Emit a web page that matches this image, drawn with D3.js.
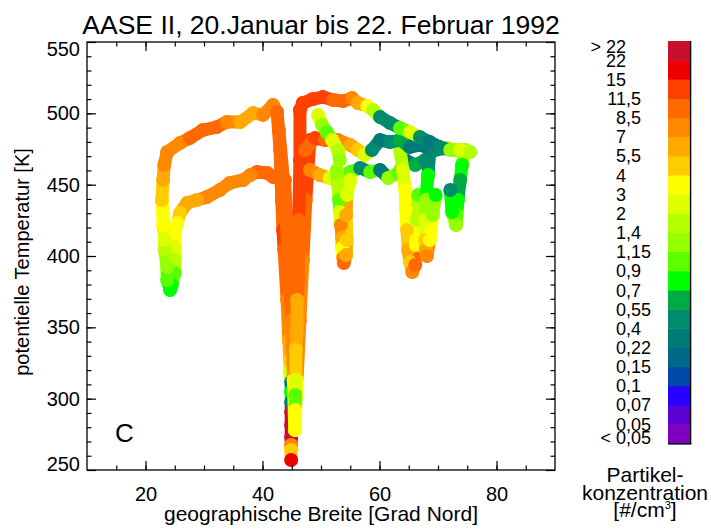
<!DOCTYPE html>
<html>
<head>
<meta charset="utf-8">
<title>AASE II</title>
<script src="https://cdn.jsdelivr.net/npm/d3@7"></script>
<style>
  body { margin: 0; background: #fff; }
  text { font-family: "Liberation Sans", Arial, Helvetica, sans-serif; fill: #000; }
</style>
</head>
<body>
<svg width="711" height="532"></svg>
<script>
// Farbklassen (unten -> oben), Grenzen der Partikelkonzentration [#/cm3]
var classColors = ["#8000c0","#5a00d0","#2800ff","#0048aa","#006888","#007a78","#008c6c","#00aa44",
  "#00ff00","#5aff00","#96ff00","#b4ff00","#ddff00","#ffff00","#ffcc00","#ffaa00",
  "#ff8800","#ff6a00","#ff4000","#ee0000","#c8102e"];
var boundLabels = ["0,05","0,07","0,1","0,15","0,22","0,4","0,55","0,7","0,9","1,15",
  "1,4","2","3","4","5,5","7","8,5","11,5","15","22"];

var xTicks = [20, 40, 60, 80];
var yTicks = [250, 300, 350, 400, 450, 500, 550];

// Flugabschnitte: [Breite, pot. Temperatur, Farbklasse]
var trackWest = [
  [43.8,453.3,17],[41.8,455.4,17],[40.8,458.2,17],[39.1,458.9,17],[37.9,456.8,16],[36.7,453.3,16],
  [34.4,451.2,16],[32.7,446.3,16],[30.5,441.4,16],[28.8,439.2,15],[27.1,437.1,15],[25.9,430.1,14],
  [25.4,423.1,13],[25.0,414.7,13],[25.0,406.3,12],[25.0,397.2,11],[25.0,388.1,9],[24.5,379.7,8],
  [24.2,376.2,8],[23.7,383.2,9],[23.7,392.3,10],[23.3,404.2,11],[23.3,411.2,12],[23.0,421.7,13],
  [23.0,430.1,13],[22.8,439.2,14],[23.0,453.3,15],[23.2,463.8,16],[23.7,472.9,16],[25.9,479.2,16],
  [27.6,482.7,17],[29.8,488.3,17],[32.2,490.4,17],[33.9,493.9,16],[36.2,493.9,15],[38.4,500.2,15],
  [40.1,498.9,16],[41.8,505.8,16],[42.5,500.9,17],[43.0,474.3,17],[43.3,439.2,17],[43.5,418.2,18],
  [43.7,404.2,17],[44.2,369.2,16],[44.5,341.1,15],[44.7,327.1,14],[44.7,318.7,12],[44.9,311.7,5],
  [44.9,304.7,8],[44.9,297.7,5],[44.9,290.7,20],[44.9,281.5,20],[44.9,273.1,20],[44.9,267.5,16],
  [44.9,264.0,14],[44.9,257.0,19]
];
var trackSpikeA = [
  [46.9,507.2,18],[46.4,502.3,18],[46.4,467.3,18],[46.2,425.2,17],[46.1,383.2,17],[45.9,369.2,15],
  [45.9,348.1,15],[45.7,334.1,14],[45.7,313.1,12],[45.6,302.6,9],[45.6,292.1,13],[45.6,278.0,13]
];
var trackSpikeB = [
  [43.8,453.3,17],[44.3,404.2,17],[45.0,355.1,16],[45.3,313.1,13],[45.5,278.0,14]
];
var trackSpikeC = [
  [48.1,481.3,18],[47.4,439.2,17],[46.9,397.2,16],[46.4,355.1,16],[45.9,313.1,13],[45.6,285.0,12]
];
var trackSpikeD = [
  [42.8,488.3,17],[43.9,439.2,17],[44.6,397.2,17],[45.0,355.1,15],[45.2,327.1,14]
];
var trackTop = [
  [46.9,507.2,18],[48.6,510.0,18],[50.3,511.4,18],[52.1,509.3,17],[53.8,508.6,17],[55.3,510.7,16],
  [56.3,507.2,15],[57.9,505.1,13],[58.9,502.3,11],[60.1,497.4,6],[61.8,493.2,6],[63.5,489.7,9],
  [65.2,486.9,12],[66.9,483.4,6],[68.6,479.9,5],[70.3,476.4,6],[72.1,474.3,10],[73.8,474.3,12],
  [75.5,472.9,11]
];
var trackMid = [
  [47.3,474.3,17],[49.0,482.7,18],[50.7,481.3,17],[52.9,481.3,16],[55.0,477.8,15],[56.3,474.3,14],
  [57.5,470.8,12],[58.7,474.3,6],[60.1,481.3,5],[61.8,479.9,6],[63.5,481.3,7],[65.2,476.4,5],
  [66.9,477.8,5],[69.5,474.3,6],[71.7,475.7,12],[73.1,474.3,10]
];
var trackLow = [
  [48.1,460.3,16],[49.8,456.8,15],[51.5,454.7,12],[53.2,455.4,10],[55.0,458.9,9],[56.7,461.7,6],
  [58.4,458.9,9],[60.1,460.3,5],[61.5,454.7,10],[63.2,458.2,9],[64.4,467.3,5],[66.1,463.8,7],
  [67.8,467.3,6]
];
var trackInner = [
  [49.5,498.8,12],[50.2,491.8,10],[51.0,486.9,9],[51.9,481.3,12],[52.9,474.3,11],[53.2,467.3,10]
];
var trackDip54 = [
  [52.7,460.3,10],[52.9,449.8,11],[53.1,439.2,9],[53.2,430.8,12],[53.4,421.7,16],[53.6,412.6,15],
  [53.6,405.6,13],[53.8,398.6,16],[53.9,395.1,17],[54.3,400.7,15],[54.4,411.2,14],[54.3,428.7,15],
  [54.4,442.8,12],[55.0,453.3,12]
];
var trackDip65 = [
  [63.5,474.3,11],[64.0,460.3,12],[64.4,446.3,13],[64.5,432.2,13],[64.7,418.2,14],[64.9,404.2,15],
  [65.2,395.8,14],[65.6,388.8,16],[66.1,393.7,17],[66.2,407.7,13],[66.4,425.2,11],[66.6,442.8,9]
];
var trackDip68 = [
  [68.6,474.3,6],[68.3,456.8,8],[67.9,439.2,10],[67.8,425.2,12],[67.8,411.2,14],[67.9,404.2,15],
  [68.1,400.0,16],[68.6,411.2,13],[69.1,428.7,10],[69.6,442.8,8]
];
var trackEast = [
  [74.6,474.3,10],[74.1,463.8,8],[73.8,453.3,7],[73.4,439.2,8],[73.2,428.7,9],[73.1,421.7,10],
  [72.4,430.8,8],[72.1,446.3,6]
];
var tracks = [trackSpikeD, trackSpikeC, trackWest, trackSpikeB, trackSpikeA, trackLow, trackDip54,
  trackDip65, trackDip68, trackEast, trackMid, trackInner, trackTop];

var svg = d3.select("svg");
svg.append("rect").attr("width", 711).attr("height", 532).attr("fill", "#fff");

var x = d3.scaleLinear().domain([10, 90]).range([87, 555]);
var y = d3.scaleLinear().domain([250, 550]).range([470, 42]);

// Datenpunkte
var gData = svg.append("g");
tracks.forEach(function(t) {
  var g = gData.append("g");
  g.selectAll("line").data(d3.pairs(t)).enter().append("line")
    .attr("x1", function(d){ return x(d[0][0]); })
    .attr("y1", function(d){ return y(d[0][1]); })
    .attr("x2", function(d){ return x(d[1][0]); })
    .attr("y2", function(d){ return y(d[1][1]); })
    .attr("stroke", function(d){ return classColors[d[0][2]]; })
    .attr("stroke-width", 13)
    .attr("stroke-linecap", "round");
  g.selectAll("circle").data(t).enter().append("circle")
    .attr("cx", function(d){ return x(d[0]); })
    .attr("cy", function(d){ return y(d[1]); })
    .attr("r", 7)
    .attr("fill", function(d){ return classColors[d[2]]; });
});

// Achsen (Ticks nach innen, auf allen vier Seiten)
function styleAxis(g) {
  g.select(".domain").remove();
  g.selectAll("line").attr("stroke", "#000").attr("stroke-width", 1.2);
  g.selectAll("text").style("font-size", "20px").attr("fill", "#000");
}
var minorX = d3.range(15, 90, 5), minorY = d3.range(260, 550, 10);

svg.append("g").attr("transform", "translate(0,470)")
  .call(d3.axisBottom(x).tickValues(xTicks).tickSize(-9).tickPadding(17)).call(styleAxis);
svg.append("g").attr("transform", "translate(0,470)")
  .call(d3.axisBottom(x).tickValues(minorX).tickSize(-4.5).tickFormat("")).call(styleAxis);
svg.append("g").attr("transform", "translate(0,42)")
  .call(d3.axisTop(x).tickValues(xTicks).tickSize(-9).tickFormat("")).call(styleAxis);
svg.append("g").attr("transform", "translate(0,42)")
  .call(d3.axisTop(x).tickValues(minorX).tickSize(-4.5).tickFormat("")).call(styleAxis);

var yAx = svg.append("g").attr("transform", "translate(87,0)")
  .call(d3.axisLeft(y).tickValues(yTicks).tickSize(-9).tickPadding(7)).call(styleAxis);
yAx.selectAll(".tick text").attr("dy", function(d){ return d === 550 ? "0.65em" : d === 250 ? "0" : "0.32em"; });
svg.append("g").attr("transform", "translate(87,0)")
  .call(d3.axisLeft(y).tickValues(minorY).tickSize(-4.5).tickFormat("")).call(styleAxis);
svg.append("g").attr("transform", "translate(555,0)")
  .call(d3.axisRight(y).tickValues(yTicks).tickSize(-9).tickFormat("")).call(styleAxis);
svg.append("g").attr("transform", "translate(555,0)")
  .call(d3.axisRight(y).tickValues(minorY).tickSize(-4.5).tickFormat("")).call(styleAxis);

svg.append("rect").attr("x", 87).attr("y", 42).attr("width", 468).attr("height", 428)
  .attr("fill", "none").attr("stroke", "#000").attr("stroke-width", 1.3);

// Beschriftung
svg.append("text").attr("x", 321).attr("y", 34).attr("text-anchor", "middle")
  .style("font-size", "26.5px").text("AASE II, 20.Januar bis 22. Februar 1992");
svg.append("text").attr("x", 321).attr("y", 521).attr("text-anchor", "middle")
  .style("font-size", "21px").text("geographische Breite [Grad Nord]");
svg.append("text").attr("transform", "translate(29,262) rotate(-90)").attr("text-anchor", "middle")
  .style("font-size", "20px").text("potentielle Temperatur [K]");
svg.append("text").attr("x", 115).attr("y", 442).style("font-size", "26px").text("C");

// Farbskala
var cb = d3.scaleLinear().domain([0, classColors.length]).range([443.3, 41]);
var gcb = svg.append("g");
gcb.selectAll("rect").data(classColors).enter().append("rect")
  .attr("x", 668).attr("width", 22)
  .attr("y", function(d, i){ return cb(i + 1); })
  .attr("height", function(d, i){ return cb(i) - cb(i + 1) + 0.5; })
  .attr("fill", function(d){ return d; });
gcb.append("line").attr("x1", 690.6).attr("x2", 690.6).attr("y1", 41).attr("y2", 444)
  .attr("stroke", "#000").attr("stroke-width", 1.4);
gcb.append("line").attr("x1", 668).attr("x2", 691.3).attr("y1", 443.9).attr("y2", 443.9)
  .attr("stroke", "#000").attr("stroke-width", 1.4);

var cbLabels = boundLabels.map(function(s, i){ return { s: s, y: cb(i + 1) }; });
cbLabels.push({ s: "> 22", y: cb(classColors.length) + 6 });
cbLabels.push({ s: "< 0,05", y: cb(0) - 6 });
var lab = gcb.selectAll("g.lab").data(cbLabels).enter().append("g").attr("class", "lab");
lab.append("text").attr("x", 626).attr("y", function(d){ return d.y; }).attr("dy", "0.36em")
  .attr("text-anchor", "end").style("font-size", "18px")
  .text(function(d){ return d.s.split(",")[0]; });
lab.filter(function(d){ return d.s.indexOf(",") >= 0; })
  .append("text").attr("x", 626).attr("y", function(d){ return d.y; }).attr("dy", "0.36em")
  .style("font-size", "18px")
  .text(function(d){ return "," + d.s.split(",")[1]; });

var cbt = svg.append("text").attr("text-anchor", "middle").style("font-size", "21px");
cbt.append("tspan").attr("x", 645).attr("y", 482).text("Partikel-");
cbt.append("tspan").attr("x", 645).attr("y", 500).text("konzentration");
cbt.append("tspan").attr("x", 645).attr("y", 517).text("[#/cm");
cbt.append("tspan").attr("dy", -8).style("font-size", "11px").text("3");
cbt.append("tspan").attr("dy", 8).text("]");
</script>
</body>
</html>
